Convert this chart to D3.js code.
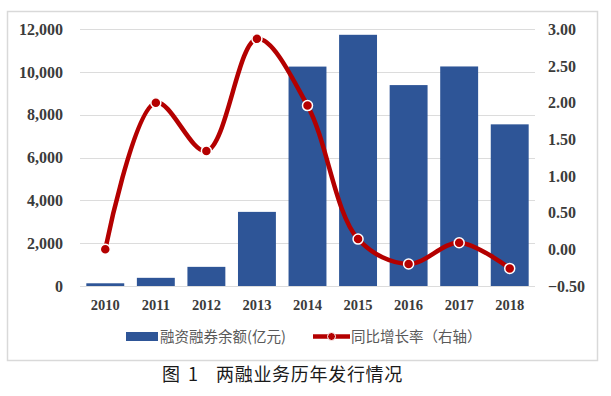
<!DOCTYPE html>
<html>
<head>
<meta charset="utf-8">
<script src="https://cdn.jsdelivr.net/npm/d3@7"></script>
<style>
  body { margin: 0; background: #fff; }
</style>
</head>
<body>
<div id="chart-area"></div>
<script>
// data
const years = ["2010", "2011", "2012", "2013", "2014", "2015", "2016", "2017", "2018"]
const balance = [127, 382, 895, 3465, 10257, 11743, 9392, 10263, 7557]   // 融资融券余额(亿元)
const growth = [0.00, 2.00, 1.34, 2.87, 1.96, 0.14, -0.20, 0.09, -0.26]  // 同比增长率（右轴）
const leftTicks = [0, 2000, 4000, 6000, 8000, 10000, 12000]
const rightTicks = [-0.5, 0, 0.5, 1, 1.5, 2, 2.5, 3]

const barColor = "#2e5597"
const lineColor = "#b40000"
const labelColor = "#3b3b3b"

const svg = d3.select("#chart-area")
    .append("svg")
    .attr("width", 611)
    .attr("height", 396)

// outer frame
svg.append("rect")
    .attr("x", 7.5).attr("y", 11.5)
    .attr("width", 590).attr("height", 349)
    .attr("fill", "#fff")
    .attr("stroke", "#d9d9d9")
    .attr("stroke-width", 1.5)

const x = d3.scaleBand()
    .domain(years)
    .range([80, 535])
    .paddingInner(0.25)
    .paddingOuter(0.125)

const yL = d3.scaleLinear().domain([0, 12000]).range([286, 29.3])
const yR = d3.scaleLinear().domain([-0.5, 3]).range([286, 29.3])

// gridlines
svg.append("g")
    .selectAll("line")
    .data(leftTicks)
    .enter().append("line")
    .attr("x1", 80).attr("x2", 535)
    .attr("y1", d => Math.round(yL(d)) + 0.5)
    .attr("y2", d => Math.round(yL(d)) + 0.5)
    .attr("stroke", "#dcdcdc")
    .attr("stroke-width", 1)

// left axis
const yLeftCall = d3.axisLeft(yL)
    .tickValues(leftTicks)
    .tickFormat(d3.format(","))
    .tickSize(0)
    .tickPadding(0)
svg.append("g")
    .attr("class", "y axis")
    .attr("transform", "translate(63, 0)")
    .call(yLeftCall)
    .call(g => g.select(".domain").remove())
    .selectAll("text")
    .attr("fill", labelColor)
    .style("font-family", "'Liberation Serif', 'Times New Roman', serif")
    .style("font-weight", "bold")
    .style("font-size", "16px")

// right axis
const yRightCall = d3.axisRight(yR)
    .tickValues(rightTicks)
    .tickFormat(d3.format(".2f"))
    .tickSize(0)
    .tickPadding(0)
svg.append("g")
    .attr("class", "y axis")
    .attr("transform", "translate(548, 0)")
    .call(yRightCall)
    .call(g => g.select(".domain").remove())
    .selectAll("text")
    .attr("fill", labelColor)
    .style("font-family", "'Liberation Serif', 'Times New Roman', serif")
    .style("font-weight", "bold")
    .style("font-size", "16px")

// x axis
const xAxisCall = d3.axisBottom(x).tickSize(0).tickPadding(0)
svg.append("g")
    .attr("class", "x axis")
    .attr("transform", "translate(0, 300)")
    .call(xAxisCall)
    .call(g => g.select(".domain").remove())
    .selectAll("text")
    .attr("fill", labelColor)
    .style("font-family", "'Liberation Serif', 'Times New Roman', serif")
    .style("font-weight", "bold")
    .style("font-size", "14.5px")

// bars
svg.append("g")
    .selectAll("rect")
    .data(balance)
    .enter().append("rect")
    .attr("x", (d, i) => x(years[i]))
    .attr("y", d => yL(d))
    .attr("width", x.bandwidth())
    .attr("height", d => yL(0) - yL(d))
    .attr("fill", barColor)

// growth line
const line = d3.line()
    .x((d, i) => x(years[i]) + x.bandwidth() / 2)
    .y(d => yR(d))
    .curve(d3.curveCatmullRom.alpha(0.5))

svg.append("path")
    .datum(growth)
    .attr("d", line)
    .attr("fill", "none")
    .attr("stroke", lineColor)
    .attr("stroke-width", 4.5)
    .attr("stroke-linecap", "round")

svg.append("g")
    .selectAll("circle")
    .data(growth)
    .enter().append("circle")
    .attr("cx", (d, i) => x(years[i]) + x.bandwidth() / 2)
    .attr("cy", d => yR(d))
    .attr("r", 5)
    .attr("fill", lineColor)
    .attr("stroke", "#fff")
    .attr("stroke-width", 1.5)

// legend
const legend = svg.append("g")
    .style("font-family", "'Noto Sans CJK SC', sans-serif")
    .style("font-size", "14.5px")

legend.append("rect")
    .attr("x", 126).attr("y", 332)
    .attr("width", 32).attr("height", 9)
    .attr("fill", barColor)
legend.append("text")
    .attr("x", 160).attr("y", 337)
    .attr("dy", "0.35em")
    .attr("fill", "#595959")
    .text("融资融券余额(亿元)")

legend.append("line")
    .attr("x1", 313).attr("x2", 350)
    .attr("y1", 336.5).attr("y2", 336.5)
    .attr("stroke", lineColor)
    .attr("stroke-width", 4.5)
legend.append("circle")
    .attr("cx", 331.5).attr("cy", 336.5)
    .attr("r", 4)
    .attr("fill", lineColor)
    .attr("stroke", "#fff")
    .attr("stroke-width", 1)
legend.append("text")
    .attr("x", 351).attr("y", 337)
    .attr("dy", "0.35em")
    .attr("fill", "#595959")
    .text("同比增长率（右轴）")

// caption
const caption = svg.append("text")
    .attr("y", 375)
    .attr("dy", "0.35em")
    .attr("fill", "#1a1a1a")
    .style("font-family", "'Noto Sans CJK SC', sans-serif")
    .style("font-size", "18px")
caption.append("tspan")
    .attr("x", 162)
    .style("letter-spacing", "8px")
    .text("图1")
caption.append("tspan")
    .attr("x", 216)
    .style("letter-spacing", "0.7px")
    .text("两融业务历年发行情况")
</script>
</body>
</html>
